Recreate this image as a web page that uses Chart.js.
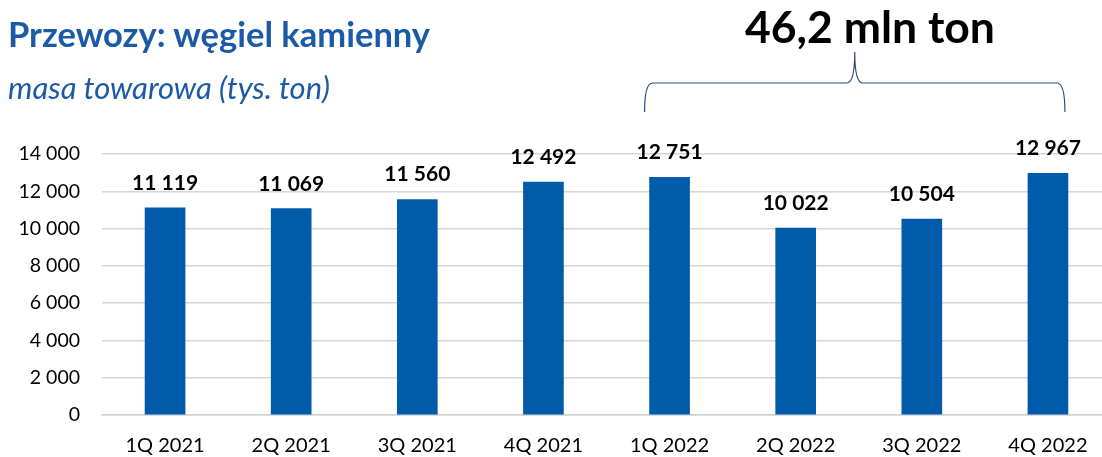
<!DOCTYPE html>
<html>
<head>
<meta charset="utf-8">
<script src="https://cdn.jsdelivr.net/npm/chart.js@4/dist/chart.umd.min.js"></script>
<style>
  html, body { margin: 0; padding: 0; background: #fff; overflow: hidden; }
  #wrap { position: relative; width: 1111px; height: 457px; }
  #chart { position: absolute; left: 0; top: 0; }
  .title { position: absolute; left: 8px; top: 13px; font: bold 34.5px Lato, sans-serif; color: #1b5aa6; white-space: nowrap; }
  .sub { position: absolute; left: 8px; top: 68px; font: italic 31px Lato, sans-serif; color: #1b5aa6; white-space: nowrap; }
  .total { position: absolute; left: 745px; top: -1px; font: bold 44.5px Lato, sans-serif; color: #000; white-space: nowrap; }
</style>
</head>
<body>
<div id="wrap">
  <canvas id="chart" width="1111" height="457"></canvas>
  <div class="title">Przewozy: węgiel kamienny</div>
  <div class="sub">masa towarowa (tys. ton)</div>
  <div class="total">46,2 mln ton</div>
</div>
<script>
// Przewozy - wegiel kamienny
const kwartaly = ['1Q 2021', '2Q 2021', '3Q 2021', '4Q 2021', '1Q 2022', '2Q 2022', '3Q 2022', '4Q 2022'];
const masa = [11119, 11069, 11560, 12492, 12751, 10022, 10504, 12967];
const yTicks = [0, 2000, 4000, 6000, 8000, 10000, 12000, 14000];

const fmt = v => String(v).replace(/\B(?=(\d{3})+(?!\d))/g, ' ');

// podpisy wartosci nad slupkami
const etykiety = {
    id: 'etykiety',
    afterDatasetsDraw(chart) {
        const ctx = chart.ctx;
        const meta = chart.getDatasetMeta(0);
        ctx.save();
        ctx.font = 'bold 21px Lato, sans-serif';
        ctx.fillStyle = '#000';
        ctx.textAlign = 'center';
        ctx.textBaseline = 'alphabetic';
        meta.data.forEach((bar, i) => {
            ctx.fillText(fmt(masa[i]), bar.x, bar.y - 18);
        });
        ctx.restore();
    }
};

// klamra nad 2022
const klamra = {
    id: 'klamra',
    afterDraw(chart) {
        const x = chart.scales.x;
        const x1 = x.getPixelForValue(4) - 25;
        const x2 = x.getPixelForValue(7) + 17;
        const xm = (x1 + x2) / 2;
        const yLine = 83, yTip = 52, yEnd = 112, r = 8;
        const ctx = chart.ctx;
        ctx.save();
        ctx.strokeStyle = '#2f4a7a';
        ctx.lineWidth = 1.2;
        ctx.beginPath();
        ctx.moveTo(x1, yEnd);
        ctx.quadraticCurveTo(x1, yLine, x1 + r, yLine);
        ctx.lineTo(xm - r, yLine);
        ctx.quadraticCurveTo(xm, yLine, xm, yTip);
        ctx.quadraticCurveTo(xm, yLine, xm + r, yLine);
        ctx.lineTo(x2 - r, yLine);
        ctx.quadraticCurveTo(x2, yLine, x2, yEnd);
        ctx.stroke();
        ctx.restore();
    }
};

new Chart(document.getElementById('chart'), {
    type: 'bar',
    data: {
        labels: kwartaly,
        datasets: [{
            data: masa,
            backgroundColor: '#005bab',
            borderWidth: 0,
            barThickness: 40
        }]
    },
    options: {
        responsive: false,
        animation: false,
        layout: { padding: { top: 154, left: 0, right: 0, bottom: 0 } },
        plugins: {
            legend: { display: false },
            tooltip: { enabled: false }
        },
        scales: {
            x: {
                grid: { display: false },
                border: { color: '#d0d0d0', width: 1.5 },
                ticks: {
                    color: '#000',
                    font: { family: 'Lato, sans-serif', size: 20 },
                    padding: 11,
                    maxRotation: 0
                },
                afterFit(s) { s.height = 42; }
            },
            y: {
                min: 0,
                max: 14000,
                afterBuildTicks(s) { s.ticks = yTicks.map(v => ({ value: v })); },
                grid: { color: '#d6d6d6', lineWidth: 1.5, drawTicks: false },
                border: { display: false },
                ticks: {
                    color: '#000',
                    font: { family: 'Lato, sans-serif', size: 19.5 },
                    padding: 22,
                    callback: v => fmt(v)
                },
                afterFit(s) { s.width = 102; }
            }
        }
    },
    plugins: [etykiety, klamra]
});
</script>
</body>
</html>
